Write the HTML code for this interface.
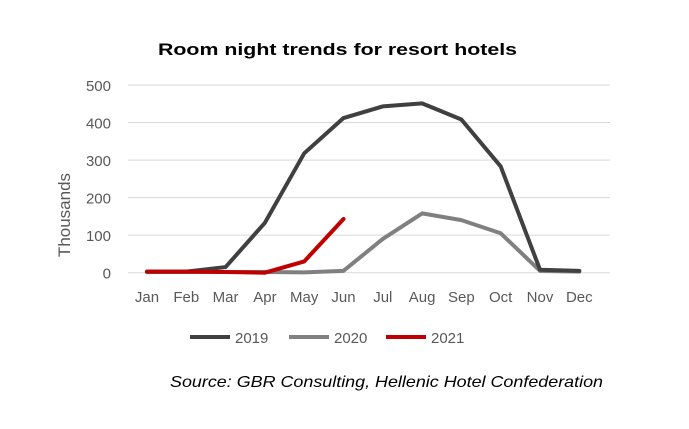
<!DOCTYPE html>
<html><head><meta charset="utf-8"><style>
body{margin:0;background:#fff;}
svg text{font-family:"Liberation Sans",sans-serif;}
</style></head><body>
<svg id="c" width="689" height="424" xmlns="http://www.w3.org/2000/svg">
<text x="158" y="55" textLength="359" lengthAdjust="spacingAndGlyphs" font-size="17" font-weight="bold" fill="#000">Room night trends for resort hotels</text>
<g id="grid"></g><g id="lines"></g>
<text transform="translate(70,215) rotate(-90)" text-anchor="middle" font-size="17" fill="#595959">Thousands</text>
<g>
<line x1="190" y1="337" x2="230" y2="337" stroke="#404040" stroke-width="4"/>
<text x="235" y="343" font-size="15" fill="#595959">2019</text>
<line x1="289" y1="337" x2="329" y2="337" stroke="#808080" stroke-width="4"/>
<text x="334" y="343" font-size="15" fill="#595959">2020</text>
<line x1="386" y1="337" x2="426" y2="337" stroke="#c00000" stroke-width="4"/>
<text x="431" y="343" font-size="15" fill="#595959">2021</text>
</g>
<text x="170" y="387" textLength="433" lengthAdjust="spacingAndGlyphs" font-size="16" font-style="italic" fill="#000">Source: GBR Consulting, Hellenic Hotel Confederation</text>
</svg>
<script>
const months=["Jan","Feb","Mar","Apr","May","Jun","Jul","Aug","Sep","Oct","Nov","Dec"];
const s2019=[3,3,15,133,318,412,443,451,408,283,8,5];
const s2020=[2,2,2,2,1,5,90,158,140,105,5,3];
const s2021=[3,3,2,0,30,143];
const yTicks=[0,100,200,300,400,500];
const NS="http://www.w3.org/2000/svg";
const x=i=>147+i*39.3;
const y=v=>272.7-v*(187.7/500);
const grid=document.getElementById('grid'),lines=document.getElementById('lines');
function mk(t,a,p){const e=document.createElementNS(NS,t);for(const k in a)e.setAttribute(k,a[k]);p.appendChild(e);return e;}
yTicks.forEach(v=>{
  const l=mk('line',{x1:128,x2:610,y1:y(v),y2:y(v),stroke:'#d9d9d9','stroke-width':1},grid);
  
  
  const t=mk('text',{x:111,y:y(v)+6,'text-anchor':'end','font-size':15,fill:'#595959'},grid);
  t.textContent=v;
  
  
});
months.forEach((m,i)=>{
  const t=mk('text',{x:x(i),y:302,'text-anchor':'middle','font-size':15,fill:'#595959'},grid);
  t.textContent=m;
  
  
});
[[s2020,'#808080','2020'],[s2019,'#404040','2019'],[s2021,'#c00000','2021']].forEach(([d,c,n])=>{
  const p=mk('polyline',{points:d.map((v,i)=>x(i)+','+y(v)).join(' '),fill:'none',stroke:c,'stroke-width':4,'stroke-linejoin':'round','stroke-linecap':'round'},lines);
  
  
});
</script>
</body></html>
